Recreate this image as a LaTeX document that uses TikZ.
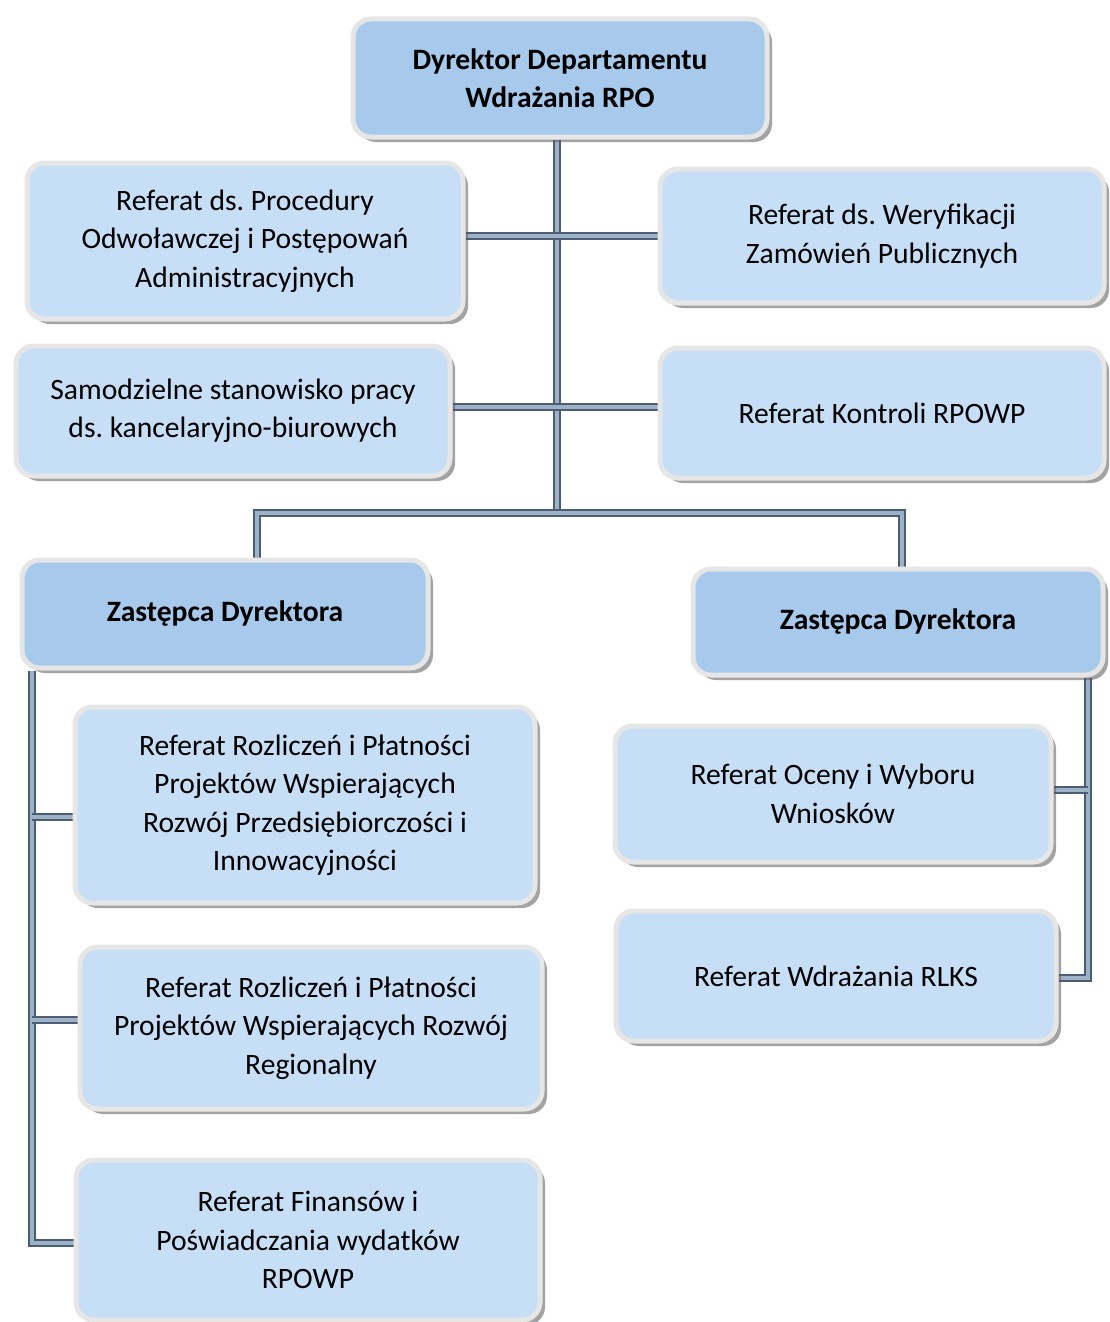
\documentclass[tikz,border=0pt]{standalone}
\usepackage{fontspec}
\setmainfont{Carlito}
\frenchspacing
\usepackage{tikz}
\usetikzlibrary{shadows,backgrounds}
\definecolor{unitblue}{HTML}{C6DEF6}
\definecolor{headblue}{HTML}{A7C9EC}
\definecolor{frame}{HTML}{E6E6E6}
\definecolor{linkdark}{HTML}{4A5D72}
\definecolor{linklight}{HTML}{9DB2C7}

\begin{document}
\begin{tikzpicture}[x=1pt,y=-1pt,
	unit/.style={draw=frame,line width=5pt,fill=unitblue,rounded corners=18pt,
		drop shadow={shadow xshift=5pt,shadow yshift=-5pt,opacity=.55,fill=black!65},
		align=center,inner sep=0pt,font=\fontsize{29.6}{38.5}\selectfont},
	head/.style={unit,fill=headblue,font=\fontsize{29.6}{38.5}\selectfont\bfseries},
	link/.style={draw=linkdark,line width=1.6pt,double=linklight,double distance=4.2pt}]
	\useasboundingbox (0,0) rectangle (1109,1322);
	\node [head, minimum width=414pt, minimum height=118pt] (dyr) at (560,78) {Dyrektor Departamentu\\Wdrażania RPO};
	\node [unit, minimum width=436pt, minimum height=156pt] (proc) at (245,241) {Referat ds. Procedury\\Odwoławczej i Postępowań\\Administracyjnych};
	\node [unit, minimum width=444pt, minimum height=134pt] (wer) at (882,236) {Referat ds. Weryfikacji\\Zamówień Publicznych};
	\node [unit, minimum width=434pt, minimum height=130pt] (sam) at (233,411) {Samodzielne stanowisko pracy\\ds. kancelaryjno-biurowych};
	\node [unit, minimum width=444pt, minimum height=130pt] (kon) at (882,413) {Referat Kontroli RPOWP};
	\node [head, minimum width=406pt, minimum height=108pt] (zl) at (225,614) {Zastępca Dyrektora};
	\node [head, minimum width=410pt, minimum height=106pt] (zr) at (898,622) {Zastępca Dyrektora};
	\node [unit, minimum width=460pt, minimum height=196pt] (roz1) at (305,805) {Referat Rozliczeń i Płatności\\Projektów Wspierających\\Rozwój Przedsiębiorczości i\\Innowacyjności};
	\node [unit, minimum width=462pt, minimum height=162pt] (roz2) at (311,1028) {Referat Rozliczeń i Płatności\\Projektów Wspierających Rozwój\\Regionalny};
	\node [unit, minimum width=464pt, minimum height=160pt] (fin) at (308,1240) {Referat Finansów i\\Poświadczania wydatków\\RPOWP};
	\node [unit, minimum width=436pt, minimum height=136pt] (oce) at (833,794) {Referat Oceny i Wyboru\\Wniosków};
	\node [unit, minimum width=440pt, minimum height=130pt] (rlks) at (836,976) {Referat Wdrażania RLKS};
	% junctions
	\coordinate (bus) at (557,513);
	\coordinate (busL) at (257,513);
	\coordinate (busR) at (902,513);
	\coordinate (row1) at (557,236);
	\coordinate (row2) at (557,407);
	\coordinate (spineL) at (32,675);
	\coordinate (tap1) at (32,817);
	\coordinate (tap2) at (32,1020);
	\coordinate (tap3) at (32,1243);
	\coordinate (spineR) at (1088,683);
	\coordinate (tap4) at (1088,790);
	\coordinate (tap5) at (1088,978);
	\begin{scope}[on background layer]
		\fill [white] (0,0) rectangle (1109,1322);
		\draw [link] (dyr.south -| bus) -- (bus);
		\draw [link] (zl.north -| busL) -- (busL) -- (busR) -- (zr.north -| busR);
		\draw [link] (proc.east |- row1) -- (wer.west |- row1);
		\draw [link] (sam.east |- row2) -- (kon.west |- row2);
		\draw [link] (zl.south -| spineL) -- (tap3) -- (tap3 -| fin.west);
		\draw [link] (tap1) -- (tap1 -| roz1.west);
		\draw [link] (tap2) -- (tap2 -| roz2.west);
		\draw [link] (zr.south -| spineR) -- (tap5) -- (tap5 -| rlks.east);
		\draw [link] (tap4) -- (tap4 -| oce.east);
	\end{scope}
\end{tikzpicture}
\end{document}
